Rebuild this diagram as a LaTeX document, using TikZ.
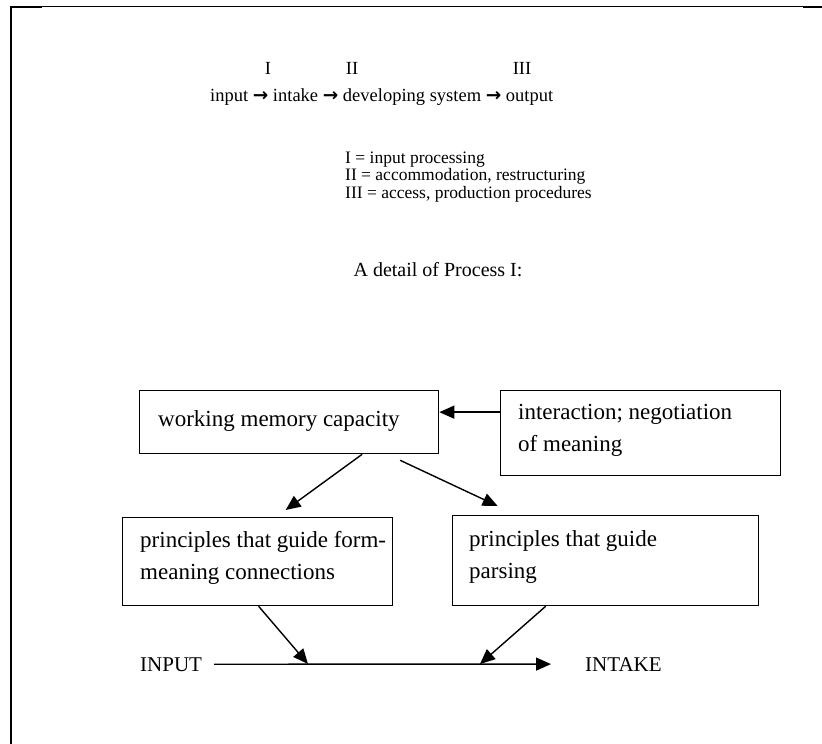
\documentclass[tikz,border=0pt]{standalone}
\usepackage{fontspec}
\setmainfont{Liberation Serif}
\newfontfamily\arrowfont{DejaVu Sans}
\usetikzlibrary{arrows.meta}
\begin{document}
\begin{tikzpicture}[x=1pt,y=-1pt,
  box/.style={draw, line width=1.3pt, anchor=north west, inner sep=0pt},
  boxtext/.style={anchor=west, align=left, inner sep=0pt, font=\fontsize{23}{32}\selectfont},
  conn/.style={line width=1.4pt, -{Triangle[length=15pt,width=13pt]}},
  hdr/.style={font=\fontsize{18.5}{18}\selectfont, inner sep=0pt},
  leg/.style={font=\fontsize{17.5}{18}\selectfont, inner sep=0pt},
  frame/.style={line width=2pt},
]
\useasboundingbox (0,0) rectangle (822,744);
\fill[white] (0,0) rectangle (822,744);
% frame
\draw[frame] (11,6) -- (11,744);
\draw[line width=1.2pt] (11,6.5) -- (822,6.5);
\draw[line width=2.6pt] (10,6.8) -- (42,6.8);
\draw[line width=2.6pt] (803,6.8) -- (822,6.8);

% header
\node[hdr, anchor=base west] (flow) at (210,101) {input {\arrowfont\bfseries\symbol{"2192}} intake {\arrowfont\bfseries\symbol{"2192}} developing system {\arrowfont\bfseries\symbol{"2192}} output};
\node[hdr, anchor=base] (n1) at (268,74) {I};
\node[hdr, anchor=base] (n2) at (352,74) {II};
\node[hdr, anchor=base] (n3) at (522,74) {III};

\node[leg, anchor=base west] (l1) at (345,163) {I = input processing};
\node[leg, anchor=base west] (l2) at (345,180.5) {II = accommodation, restructuring};
\node[leg, anchor=base west] (l3) at (345,198) {III = access, production procedures};

\node[anchor=base, inner sep=0pt, font=\fontsize{20}{20}\selectfont] (title) at (438,276) {A detail of Process I:};

% boxes
\node[box, minimum width=299pt, minimum height=63pt] (wm) at (139,390) {};
\node[boxtext] (wmt) at ([xshift=19pt,yshift=1pt]wm.west) {working memory capacity};

\node[box, minimum width=280pt, minimum height=85pt] (inter) at (500,390) {};
\node[boxtext] (intert) at ([xshift=18pt,yshift=3pt]inter.west) {interaction; negotiation\\of meaning};

\node[box, minimum width=270pt, minimum height=88pt] (bl) at (122,517) {};
\node[boxtext] (blt) at ([xshift=18pt,yshift=4pt]bl.west) {principles that guide form-\\meaning connections};

\node[box, minimum width=306pt, minimum height=90pt] (br) at (452,515) {};
\node[boxtext] (brt) at ([xshift=17pt,yshift=4pt]br.west) {principles that guide\\parsing};

% bottom line
\node[anchor=base west, inner sep=0pt, font=\fontsize{21}{21}\selectfont] (inp) at (140,671) {INPUT};
\node[anchor=base west, inner sep=0pt, font=\fontsize{21}{21}\selectfont] (intk) at (585,671) {INTAKE};
\coordinate (ls) at ([xshift=12pt]inp.east);
\coordinate (le) at ([xshift=-34pt]intk.west);
\draw[conn] (ls) -- (le);
\coordinate (j1) at (308,664);
\coordinate (j2) at (480,664);

% connectors
\coordinate (ia) at ([yshift=21pt]inter.west);
\draw[conn] (ia) -- (wm.east |- ia);
\draw[conn] ([xshift=73pt]wm.south) -- ([xshift=28pt,yshift=7pt]bl.north);
\draw[conn] ([xshift=111pt,yshift=-6pt]wm.south) -- ([xshift=-108pt,yshift=9pt]br.north);
\draw[conn] ([xshift=1pt]bl.south) -- (j1);
\draw[conn] ([xshift=-60pt]br.south) -- (j2);
\end{tikzpicture}
\end{document}
